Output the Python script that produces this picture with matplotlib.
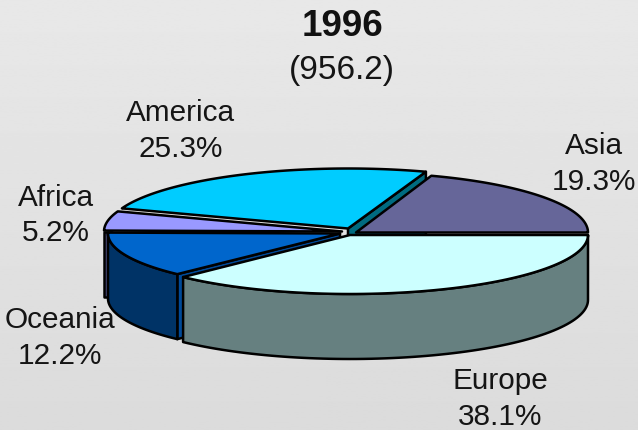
# 3D exploded pie of regional shares, 1996.
import matplotlib.pyplot as plt
import numpy as np
from matplotlib.patches import Polygon

plt.rcParams['font.family'] = ['Liberation Sans', 'DejaVu Sans']

regions = ['Asia', 'America', 'Africa', 'Oceania', 'Europe']
shares = [19.3, 25.3, 5.2, 12.2, 38.1]
year = '1996'
total = '(956.2)'

top_colors = ['#666699', '#00ccff', '#9999ff', '#0066cc', '#ccffff']
side_colors = ['#47476b', '#006b80', '#4d4d80', '#003366', '#668080']
# slice apex in pixels, each slice is pulled out a little
centers = [(356, 233.5), (348, 229.5), (342, 232.5), (340, 234.5), (350, 236)]
radii_x = [232, 240, 238, 232, 238]
radii_y = [60, 60, 60, 57, 59]
label_pos = [(594, 164), (181, 131), (56, 215.5), (60, 338), (500, 399)]

DEPTH = 65

fig = plt.figure(figsize=(6.38, 4.31), dpi=100)
ax = fig.add_axes([0, 0, 1, 1])
ax.imshow(np.linspace(0.91, 0.86, 256).reshape(-1, 1), cmap='gray', vmin=0, vmax=1,
          extent=[0, 638, 431, 0], aspect='auto', zorder=0)
ax.set_xlim(0, 638)
ax.set_ylim(431, 0)
ax.axis('off')


def arc(i, a0, a1, drop=0):
    d = np.linspace(a0, a1, 80)
    # the tilted view stretches the angles a little
    t = np.radians(d + 2.5 * np.maximum(0, np.sin(np.radians(2 * d))))
    c = centers[i]
    return np.column_stack([c[0] + radii_x[i] * np.cos(t),
                            c[1] - radii_y[i] * np.sin(t) + drop])


def poly(points, color, z):
    ax.add_patch(Polygon(points, closed=True, facecolor=color, edgecolor='black',
                         linewidth=1.8, joinstyle='round', zorder=z))


edges = np.concatenate([[0], np.cumsum(shares) / np.sum(shares) * 360])

# sides and cut faces, back to front
for i, c in enumerate(centers):
    a0, a1 = edges[i], edges[i + 1]
    z = 2 + i * 0.1
    if regions[i] == 'America':
        e = arc(i, a0, a0 + 0.01)[0]
        poly([c, e, e + [0, DEPTH], (c[0], c[1] + DEPTH)], side_colors[i], 1.5)
    if a1 > 180:
        lo = max(a0, 180)
        poly(np.vstack([arc(i, lo, a1), arc(i, lo, a1, DEPTH)[::-1]]), side_colors[i], z)
    if regions[i] == 'Africa':
        left = arc(i, 180, 180.01)[0]
        poly([left, left + [0, DEPTH], left + [8, DEPTH], left + [8, 0]],
             side_colors[i], z)
    if regions[i] == 'Oceania':
        e = arc(i, a1, a1 + 0.01)[0]
        poly([c, e, e + [0, DEPTH], (c[0], c[1] + DEPTH)], '#004a99', z - 0.05)

# top faces
for i, c in enumerate(centers):
    poly(np.vstack([[c], arc(i, edges[i], edges[i + 1])]), top_colors[i], 3 + i * 0.1)

for name, share, (x, y) in zip(regions, shares, label_pos):
    ax.text(x, y, '%s\n%.1f%%' % (name, share), ha='center', va='center', fontsize=21.4,
            color='#151515', linespacing=1.32, zorder=5)

ax.text(342, 27, year, ha='center', va='center', fontsize=26.5, fontweight='bold',
        color='#111111')
ax.text(342, 70, total, ha='center', va='center', fontsize=24, color='#151515')

fig.savefig('out.png', dpi=100)
